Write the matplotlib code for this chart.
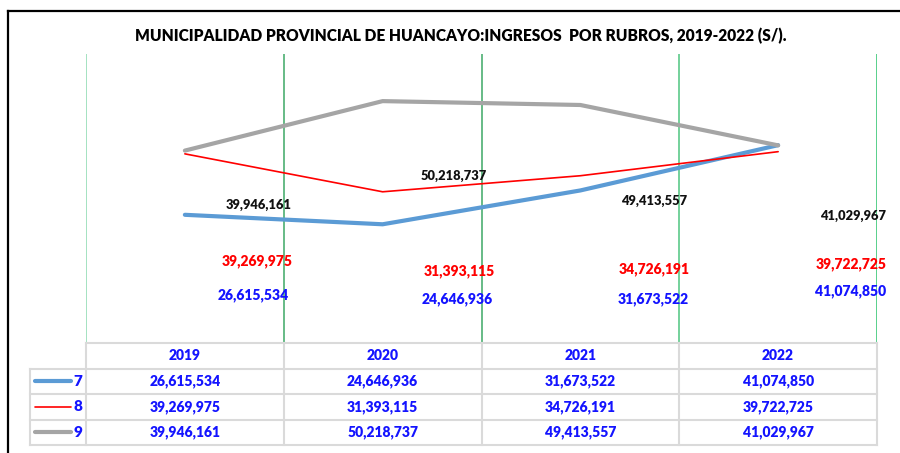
import matplotlib
matplotlib.use('Agg')
import matplotlib.pyplot as plt
from matplotlib.lines import Line2D
import numpy as np

plt.rcParams['font.family'] = ['Lato', 'DejaVu Sans']

# ---- data ----
years = ['2019', '2020', '2021', '2022']
series_names = ['7', '8', '9']
rubro7 = [26615534, 24646936, 31673522, 41074850]
rubro8 = [39269975, 31393115, 34726191, 39722725]
rubro9 = [39946161, 50218737, 49413557, 41029967]
title = 'MUNICIPALIDAD PROVINCIAL DE HUANCAYO:INGRESOS  POR RUBROS, 2019-2022 (S/).'

# ---- style / layout ----
series = [rubro7, rubro8, rubro9]
line_colors = ['#5B9BD5', '#FF0000', '#A5A5A5']
line_widths = [3.0, 1.2, 3.0]
label_colors = ['#1414FF', '#FF0000', '#111111']
label_sizes = [10, 10, 9.3]
table_color = '#1414FF'
WEIGHT = 'heavy'
# data-label offsets in pixels from each point (x right, y up)
label_offsets = [
    [(68, -80), (75, -75), (73, -109), (72, -146)],
    [(72, -107), (77, -79), (74, -93), (73, -112)],
    [(74, -54), (71, -75), (74, -96), (75, -71)],
]

W, H = 900, 453
fig = plt.figure(figsize=(W / 100, H / 100), dpi=100)
fig.patch.set_facecolor('white')


def fx(px):
    return px / W


def fy(py):
    return 1 - py / H


plot_l, plot_r, plot_t, plot_b = 86, 877, 54, 343
row_h = 25.5
ax = fig.add_axes([fx(plot_l), fy(plot_b), fx(plot_r) - fx(plot_l), fy(plot_t) - fy(plot_b)])
x = np.arange(len(years))
ax.set_xlim(-0.5, len(years) - 0.5)
ax.set_ylim(0, 60e6)
ax.axis('off')

grid_colors = ['#95DDB6', '#4DAF72', '#4DAF72', '#5CC98A', '#3CC878']
for b, gc in zip(np.arange(-0.5, len(years)), grid_colors):
    ax.axvline(b, color=gc, lw=1.2, zorder=1)

for s, c, lw in zip(series, line_colors, line_widths):
    ax.plot(x, s, color=c, lw=lw, solid_capstyle='round', solid_joinstyle='round', zorder=3)

for s, offs, lc, ls in zip(series, label_offsets, label_colors, label_sizes):
    for xi, v, off in zip(x, s, offs):
        ax.annotate(f'{v:,}', (xi, v), xytext=off, textcoords='offset pixels',
                    ha='center', va='center', color=lc, fontsize=ls, fontweight=WEIGHT,
                    annotation_clip=False, zorder=4)

# ---- data table ----
n_rows = len(series) + 1
tax = fig.add_axes([fx(plot_l), fy(plot_b + row_h * n_rows), fx(plot_r) - fx(plot_l),
                    fy(plot_b) - fy(plot_b + row_h * n_rows)])
tax.set_xlim(-0.5, len(years) - 0.5)
tax.set_ylim(n_rows, 0)
tax.axis('off')
col_w_px = (plot_r - plot_l) / len(years)
leg_left = -0.5 - 56 / col_w_px
tcol = '#DADADA'
tlw = 1.5
tax.plot([-0.5, len(years) - 0.5], [0, 0], color=tcol, lw=tlw, clip_on=False)
for r in range(1, n_rows + 1):
    tax.plot([leg_left, len(years) - 0.5], [r, r], color=tcol, lw=tlw, clip_on=False)
tax.plot([leg_left, leg_left], [1, n_rows], color=tcol, lw=tlw, clip_on=False)
for b in np.arange(-0.5, len(years)):
    tax.plot([b, b], [0, n_rows], color=tcol, lw=tlw, clip_on=False)

for xi, yr in zip(x, years):
    tax.text(xi, 0.5, yr, ha='center', va='center', color=table_color,
             fontsize=10, fontweight=WEIGHT)
for r, (s, name, c, lw) in enumerate(zip(series, series_names, line_colors, line_widths)):
    yrow = r + 1.5
    for xi, v in zip(x, s):
        tax.text(xi, yrow, f'{v:,}', ha='center', va='center', color=table_color,
                 fontsize=10, fontweight=WEIGHT)
    tax.plot([-0.5 - 51 / col_w_px, -0.5 - 15 / col_w_px], [yrow, yrow], color=c, lw=lw,
             solid_capstyle='round', clip_on=False)
    tax.text(-0.5 - 8.5 / col_w_px, yrow, name, ha='center', va='center', color=table_color,
             fontsize=11, fontweight=WEIGHT)

# ---- title & frame ----
fig.text(fx(461), fy(36), title, ha='center', va='center', fontsize=11.2, fontweight=WEIGHT,
         color='black')
fig.add_artist(Line2D([fx(7.5), 1.0], [fy(11), fy(11)], transform=fig.transFigure,
                      color='black', lw=1.6))
fig.add_artist(Line2D([fx(7.5), fx(7.5)], [fy(11), 0.0], transform=fig.transFigure,
                      color='black', lw=1.6))

fig.savefig('out.png', dpi=100)
